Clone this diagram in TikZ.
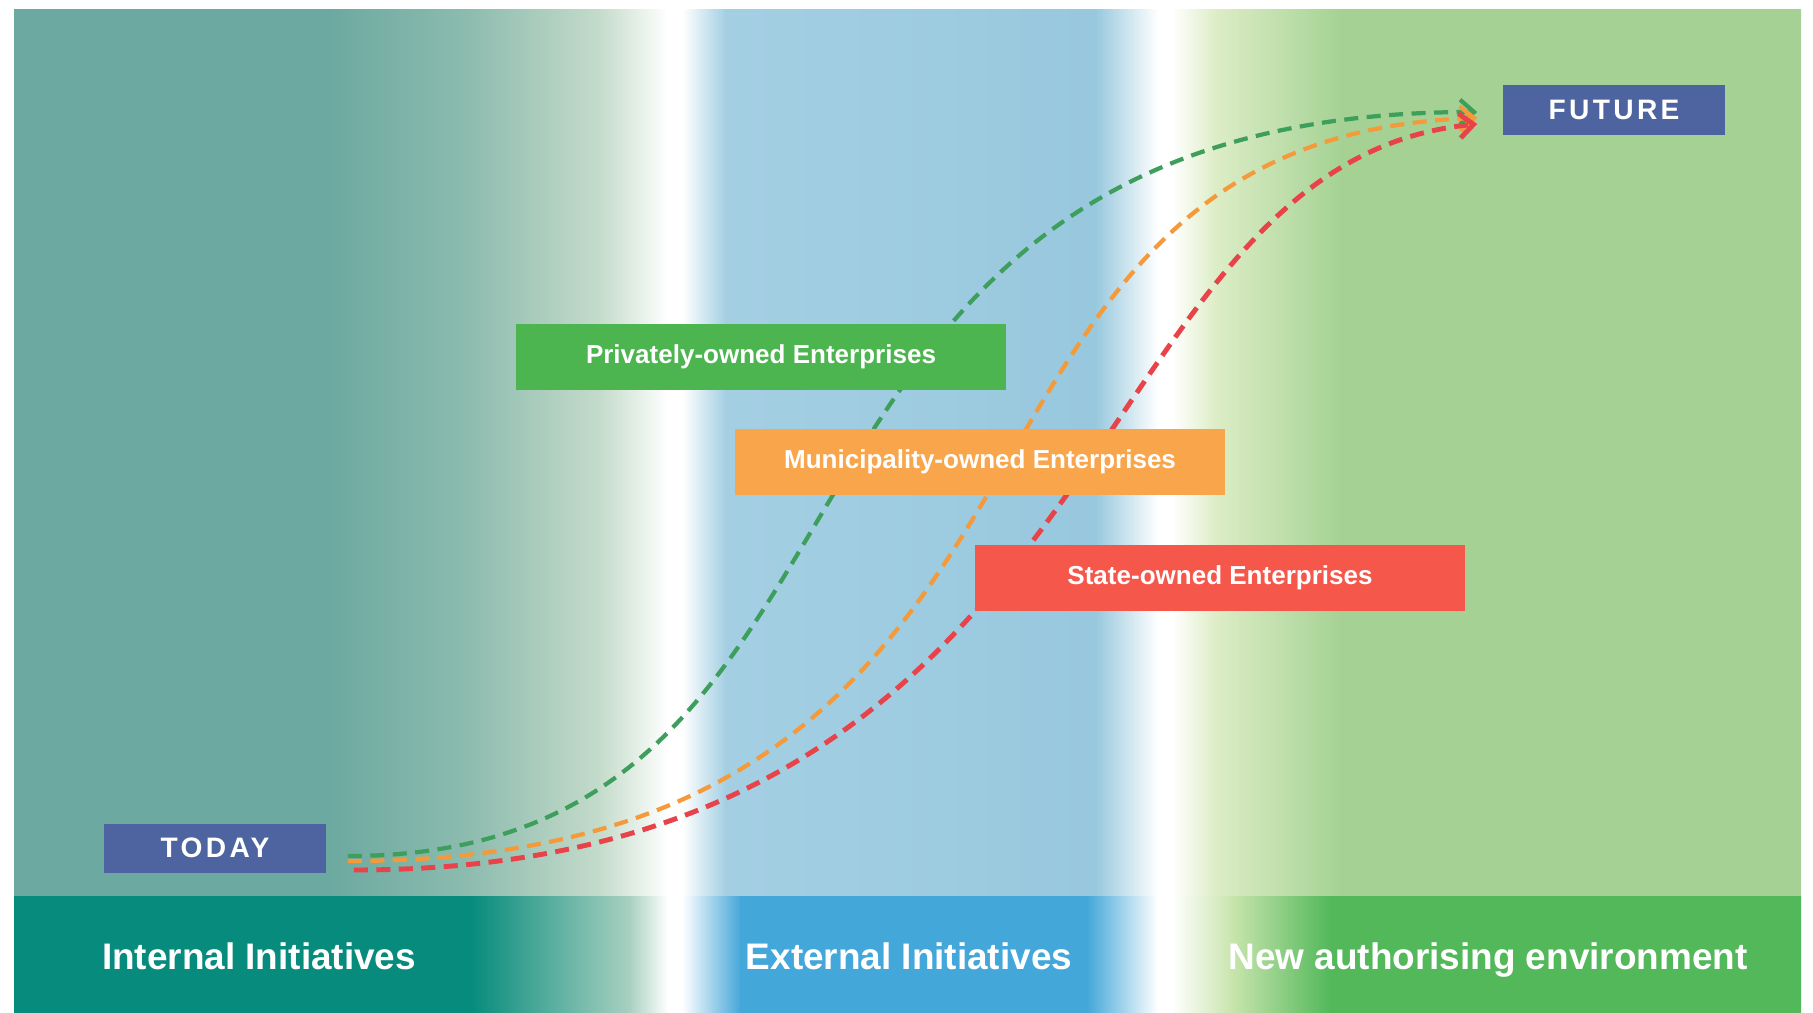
\documentclass[tikz,border=0pt]{standalone}
\usepackage{fontspec}
\setmainfont{Liberation Sans}
\newfontfamily\tagfont{Liberation Sans}[LetterSpace=12]
\usepackage{tikz}
\usetikzlibrary{arrows.meta}
\usepackage{xcolor}

\definecolor{tealbg}{HTML}{6CA9A0}
\definecolor{tealmid}{HTML}{8DBCAF}
\definecolor{tealpale}{HTML}{C4DBCA}
\definecolor{bluebg}{HTML}{A4CFE3}
\definecolor{bluebgb}{HTML}{98C8DE}
\definecolor{greenpale}{HTML}{DDEDC6}
\definecolor{greenbg}{HTML}{A5D294}
\definecolor{stripteal}{HTML}{068B7C}
\definecolor{striptealpale}{HTML}{A8D0C0}
\definecolor{stripblue}{HTML}{44A7D9}
\definecolor{stripgreenpale}{HTML}{C9E5AE}
\definecolor{stripgreen}{HTML}{52B85A}
\definecolor{tagblue}{HTML}{4D64A0}
\definecolor{boxgreen}{HTML}{4CB550}
\definecolor{boxorange}{HTML}{F9A54B}
\definecolor{boxred}{HTML}{F5574B}
\definecolor{lngreen}{HTML}{3E9E5C}
\definecolor{lnorange}{HTML}{F49A3A}
\definecolor{lnred}{HTML}{E9434A}

\begin{document}
\begin{tikzpicture}[x=0.01cm,y=-0.01cm,>={Straight Barb[length=4pt,width=7pt]}]
    \tikzstyle{marker}=[fill=tagblue,text=white,minimum width=2.22cm,minimum height=0.49cm,font=\tagfont\bfseries\fontsize{8}{9}\selectfont]
    \tikzstyle{sector}=[text=white,minimum width=4.9cm,minimum height=0.65cm,font=\bfseries\fontsize{7.4}{9}\selectfont]
    \tikzstyle{zone}=[text=white,anchor=base,font=\bfseries\fontsize{10.5}{12}\selectfont]
    \tikzstyle{track}=[->,line width=1.2pt,dash pattern=on 4pt off 2.4pt]

    \useasboundingbox (0,0) rectangle (1813,1012);
    % upper bands
    \foreach \xa/\xb/\ca/\cb in {14/331/tealbg/tealbg, 330/470/tealbg/tealmid, 469/600/tealmid/tealpale, 599/668/tealpale/white,
        667/683/white/white, 682/726/white/bluebg, 725/1096/bluebg/bluebgb, 1095/1158/bluebgb/white,
        1157/1173/white/white, 1172/1216/white/greenpale, 1215/1341/greenpale/greenbg, 1340/1801/greenbg/greenbg}
        \shade[left color=\ca,right color=\cb] (\xa,9) rectangle (\xb,897);
    % lower strip
    \foreach \xa/\xb/\ca/\cb in {14/471/stripteal/stripteal, 470/630/stripteal/striptealpale, 629/668/striptealpale/white,
        667/683/white/white, 682/741/white/stripblue, 740/1088/stripblue/stripblue, 1087/1158/stripblue/white,
        1157/1173/white/white, 1172/1232/white/stripgreenpale, 1231/1331/stripgreenpale/stripgreen, 1330/1801/stripgreen/stripgreen}
        \shade[left color=\ca,right color=\cb] (\xa,896) rectangle (\xb,1012);

    \node[marker] (today) at (215,848) {TODAY};
    \node[marker] (future) at (1614,110) {FUTURE};

    \draw[track,lngreen] ([shift={(21,8)}]today.east) .. controls +(581,0) and +(-774,0) .. ([shift={(-25,2)}]future.west);
    \draw[track,lnorange] ([shift={(21,13)}]today.east) .. controls +(788,0) and +(-590,20) .. ([shift={(-25,8)}]future.west);
    \draw[track,lnred,line width=1.4pt] ([shift={(27,22)}]today.east) .. controls +(778,0) and +(-406,40) .. ([shift={(-25,14)}]future.west);

    \node[sector,fill=boxgreen] (private) at (761,357) {Privately-owned Enterprises};
    \node[sector,fill=boxorange] (municipal) at (980,462) {Municipality-owned Enterprises};
    \node[sector,fill=boxred] (state) at (1220,578) {State-owned Enterprises};

    \node[zone] (internal) at (259,969) {Internal Initiatives};
    \node[zone] (external) at (909,969) {External Initiatives};
    \node[zone] (authorising) at (1488,969) {New authorising environment};
\end{tikzpicture}
\end{document}
